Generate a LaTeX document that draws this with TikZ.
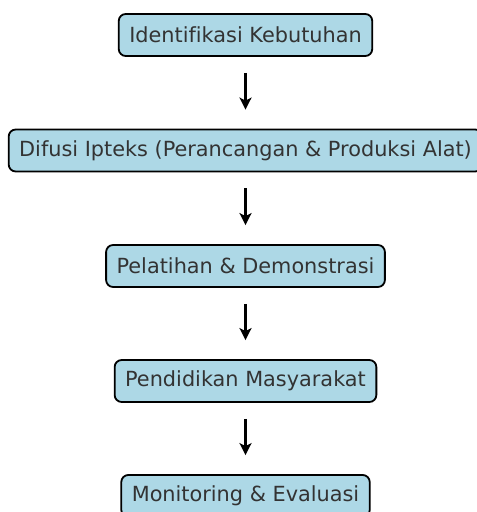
\documentclass[tikz,border=0pt]{standalone}
\usepackage{fontspec}
\setmainfont{DejaVu Sans}[Ligatures=NoCommon]
\usetikzlibrary{arrows.meta}
\definecolor{boxfill}{HTML}{ADD8E6}
\definecolor{boxtext}{HTML}{333333}
\tikzset{
  stepbox/.style={draw=black, line width=1.8bp, fill=boxfill, rounded corners=7bp,
    text=boxtext, inner xsep=10.5bp, inner ysep=0bp, minimum height=42bp,
    font=\fontsize{20.9}{24}\selectfont, anchor=center},
  flowarrow/.style={-{Stealth[length=12bp,width=12bp,inset=3bp]}, line width=2.6bp, black,
    shorten <=16bp, shorten >=19bp}
}
\begin{document}
\begin{tikzpicture}[x=1bp,y=-1bp]
\useasboundingbox (0,0) rectangle (477,512);
\node[stepbox] (s1) at (245.5,35) {Identifikasi Kebutuhan};
\node[stepbox] (s2) at (245.5,150.5) {Difusi Ipteks (Perancangan \& Produksi Alat)};
\node[stepbox] (s3) at (245.5,266) {Pelatihan \& Demonstrasi};
\node[stepbox] (s4) at (245.5,381) {Pendidikan Masyarakat};
\node[stepbox] (s5) at (245.5,496) {Monitoring \& Evaluasi};
\draw[flowarrow] (s1) -- (s2);
\draw[flowarrow] (s2) -- (s3);
\draw[flowarrow] (s3) -- (s4);
\draw[flowarrow] (s4) -- (s5);
\end{tikzpicture}
\end{document}
